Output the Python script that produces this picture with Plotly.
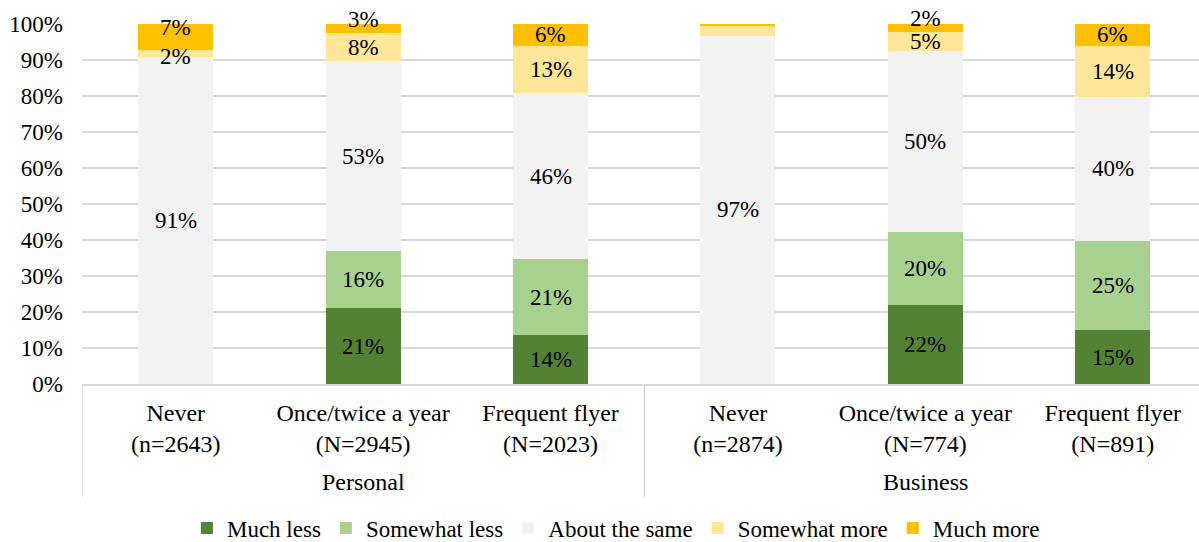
import plotly.graph_objects as go

# ---- data ----
groups = ["Personal", "Personal", "Personal", "Business", "Business", "Business"]
categories = ["Never<br>(n=2643)", "Once/twice a year<br>(N=2945)", "Frequent flyer<br>(N=2023)",
              "Never<br>(n=2874)", "Once/twice a year<br>(N=774)", "Frequent flyer<br>(N=891)"]
series_names = ["Much less", "Somewhat less", "About the same", "Somewhat more", "Much more"]
much_less = [0.0, 21.1, 13.6, 0.0, 21.9, 15.0]
somewhat_less = [0.0, 15.8, 21.1, 0.0, 20.4, 24.7]
about_same = [90.9, 52.8, 46.1, 96.7, 50.3, 40.1]
somewhat_more = [1.9, 7.7, 13.1, 2.7, 5.3, 14.1]
much_more = [7.2, 2.6, 6.1, 0.6, 2.1, 6.1]
y_ticks = [0, 10, 20, 30, 40, 50, 60, 70, 80, 90, 100]
group_names = ["Personal", "Business"]

# ---- style ----
colors = ["#548235", "#A9D18E", "#F2F2F2", "#FFE699", "#FFC000"]
FONT = "Liberation Serif"
hidden_labels = {(3, 3), (3, 4)}          # (category index, series index)
label_shift = {(0, 4): 9, (0, 3): -3, (1, 4): 9, (4, 4): 9}
PLOT_TOP, PLOT_BOTTOM = 24, 384

def paper_y(px):
    return (PLOT_BOTTOM - px) / (PLOT_BOTTOM - PLOT_TOP)

all_series = [much_less, somewhat_less, about_same, somewhat_more, much_more]
x_pos = list(range(len(categories)))

fig = go.Figure()
for name, vals, col in zip(series_names, all_series, colors):
    fig.add_trace(go.Bar(x=x_pos, y=vals, name=name, marker=dict(color=col, line=dict(width=0)),
                         width=0.4, hoverinfo="skip"))

annotations = []
for ci in range(len(categories)):
    base = 0.0
    for si, vals in enumerate(all_series):
        v = vals[ci]
        if v >= 0.5 and (ci, si) not in hidden_labels:
            annotations.append(dict(x=ci, y=base + v / 2, xref="x", yref="y",
                                    text=f"{round(v)}%", showarrow=False,
                                    yshift=label_shift.get((ci, si), 0),
                                    font=dict(family=FONT, size=23, color="#000000")))
        base += v

for gi, gname in enumerate(group_names):
    annotations.append(dict(x=gi * 3 + 1, y=paper_y(482), xref="x", yref="paper", text=gname,
                            showarrow=False, yanchor="middle",
                            font=dict(family=FONT, size=24, color="#000000")))

shapes = []
for xv in [-0.5, 2.5]:
    shapes.append(dict(type="line", xref="x", yref="paper", x0=xv, x1=xv, y0=0, y1=paper_y(497),
                       line=dict(color="#d9d9d9", width=1.5)))

fig.update_layout(
    barmode="stack",
    width=1199, height=542,
    margin=dict(l=82, r=0, t=PLOT_TOP, b=542 - PLOT_BOTTOM, autoexpand=False),
    paper_bgcolor="white", plot_bgcolor="white",
    font=dict(family=FONT, size=23, color="#000000"),
    annotations=annotations,
    shapes=shapes,
    showlegend=True,
    legend=dict(orientation="h", x=0.478, xanchor="center", y=paper_y(528), yanchor="middle",
                font=dict(family=FONT, size=23, color="#000000"), traceorder="normal",
                itemwidth=30, tracegroupgap=0),
)
fig.update_xaxes(range=[-0.5, 5.46], tickvals=x_pos, ticktext=categories, automargin=False,
                 showgrid=False, zeroline=False, showline=True, linecolor="#d9d9d9", linewidth=1.5,
                 ticks="outside", ticklen=6, tickcolor="rgba(0,0,0,0)",
                 tickfont=dict(family=FONT, size=24, color="#000000"))
fig.update_yaxes(range=[0, 100], tickvals=y_ticks, ticktext=[f"{t}%" for t in y_ticks], automargin=False,
                 showgrid=True, gridcolor="#d9d9d9", gridwidth=1.5, zeroline=False,
                 ticklabelstandoff=18,
                 tickfont=dict(family=FONT, size=23, color="#000000"))

fig.write_html("out.html")
